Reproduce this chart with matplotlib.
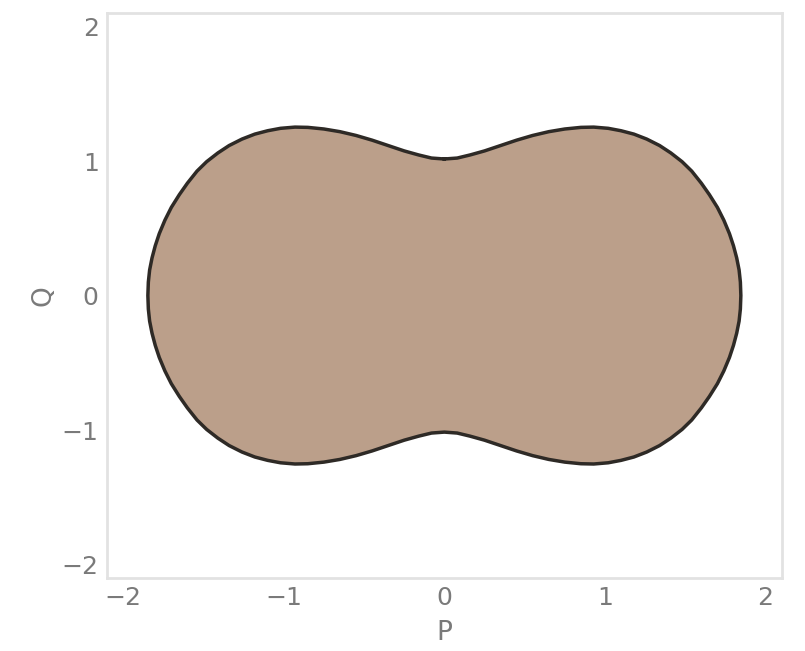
import numpy as np
import matplotlib.pyplot as plt

# boundary of the region, first quadrant (P >= 0, Q >= 0); mirrored below
p_quad = [0.0, 0.08, 0.16, 0.25, 0.35, 0.45, 0.55, 0.65, 0.75, 0.85, 0.93, 1.02,
          1.1, 1.18, 1.26, 1.34, 1.41, 1.48, 1.54, 1.6, 1.65, 1.7, 1.74, 1.775,
          1.8, 1.82, 1.835, 1.843, 1.846]
q_quad = [1.015, 1.022, 1.045, 1.075, 1.115, 1.155, 1.19, 1.218, 1.238, 1.25, 1.252, 1.243,
          1.225, 1.2, 1.163, 1.115, 1.06, 0.995, 0.925, 0.835, 0.75, 0.655, 0.56, 0.46,
          0.37, 0.28, 0.19, 0.1, 0.0]

ticks = [-2, -1, 0, 1, 2]

p_q = np.array(p_quad)
q_q = np.array(q_quad)
# walk the closed curve: top right -> bottom right -> bottom left -> top left
P = np.concatenate([p_q, p_q[::-1], -p_q, -p_q[::-1]])
Q = np.concatenate([q_q, -q_q[::-1], -q_q, q_q[::-1]])

fig = plt.figure(figsize=(8.05, 6.51), dpi=100)
ax = fig.add_axes([0.133, 0.112, 0.838, 0.868])

ax.fill(P, Q, color="#bb9f8a", zorder=1)
ax.plot(P, Q, color="#2e2a26", lw=2.5, solid_joinstyle="round", zorder=2)

ax.set_xlim(-2.1, 2.1)
ax.set_ylim(-2.1, 2.1)
ax.set_xticks(ticks)
ax.set_yticks(ticks)
ax.set_xticklabels([str(t).replace("-", "\u2212") for t in ticks])
ax.set_yticklabels([str(t).replace("-", "\u2212") for t in ticks])
ax.tick_params(length=0, labelsize=18, labelcolor="#7a7a7a", pad=6)
for s in ax.spines.values():
    s.set_color("#e2e2e2")
    s.set_linewidth(2)

ax.set_xlabel("P", fontsize=19, color="#7a7a7a", labelpad=7)
ax.set_ylabel("Q", fontsize=19, color="#7a7a7a", labelpad=4)

fig.savefig("out.png", dpi=100)
